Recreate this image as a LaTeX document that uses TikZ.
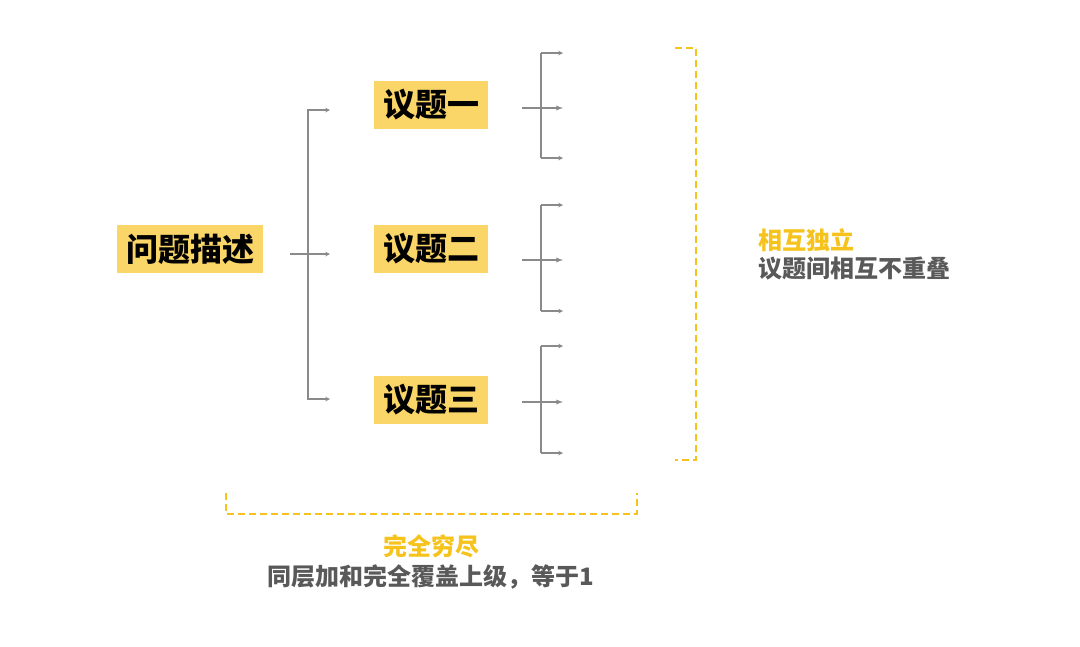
\documentclass[tikz,border=0pt]{standalone}
\usepackage{fontspec}
\newfontfamily\cjk{Noto Sans CJK SC}
\usetikzlibrary{arrows}
\usetikzlibrary{positioning}
\definecolor{boxyellow}{HTML}{FAD567}
\definecolor{gold}{HTML}{F6C21C}
\definecolor{linegray}{HTML}{8A8A8A}
\definecolor{textgray}{HTML}{595959}
\tikzset{%
	topic/.style={inner xsep=9pt,inner ysep=0pt,minimum height=48pt,fill=boxyellow,text=black,font=\cjk\bfseries\fontsize{32}{36}\selectfont},
	link/.style={->,>=stealth,linegray,line width=1.1pt},
	sublink/.style={->,>=latex,linegray,line width=1.3pt},
	fork/.style={linegray,line width=1.1pt},
	brace/.style={gold,line width=2.5pt,dash pattern=on 7pt off 4pt},
	note/.style={inner sep=0pt,font=\cjk\bfseries\fontsize{24}{28}\selectfont},
}

\begin{document}
\begin{tikzpicture}[x=1pt,y=-1pt]
	\useasboundingbox (0,0) rectangle (1080,646);
	\node[topic] (desc) at (190,249) {问题描述};
	\node[topic] (t1) at (431,105) {议题一};
	\node[topic] (t2) at (431,249) {议题二};
	\node[topic] (t3) at (431,400) {议题三};
	% first level fork
	\coordinate (r0) at (290,254);
	\coordinate (rm) at (308,254);
	\coordinate (re) at (330,254);
	\coordinate (ru) at (308,110);
	\coordinate (rd) at (308,399);
	\draw[link] (r0) -- (re);
	\draw[link] (rm) -- (ru) -- (330,110);
	\draw[link] (rm) -- (rd) -- (330,399);
	% second level forks
	\foreach \n/\y/\a/\b in {1/108/53/158, 2/260/205/311, 3/402/346/453} {
		\coordinate (s\n) at (522,\y);
		\coordinate (e\n) at (563,\y);
		\coordinate (u\n) at (541,\a);
		\coordinate (d\n) at (541,\b);
		\draw[sublink] (s\n) -- (e\n);
		\draw[fork] (u\n) -- (d\n);
		\draw[link] (u\n) -- (563,\a);
		\draw[link] (d\n) -- (563,\b);
	}
	% brackets
	\draw[brace] (675,48) -- (696,48) -- (696,460) -- (675,460);
	\draw[brace] (226,493) -- (226,514) -- (637,514) -- (637,493);
	\node[note,text=gold,anchor=west] (mi) at (758,240) {相互独立};
	\node[note,text=textgray,anchor=west] (mitext) at (758,269) {议题间相互不重叠};
	\node[note,text=gold] (ce) at (431,546) {完全穷尽};
	\node[note,text=textgray] (cetext) at (431,577) {同层加和完全覆盖上级，等于1};
\end{tikzpicture}
\end{document}
